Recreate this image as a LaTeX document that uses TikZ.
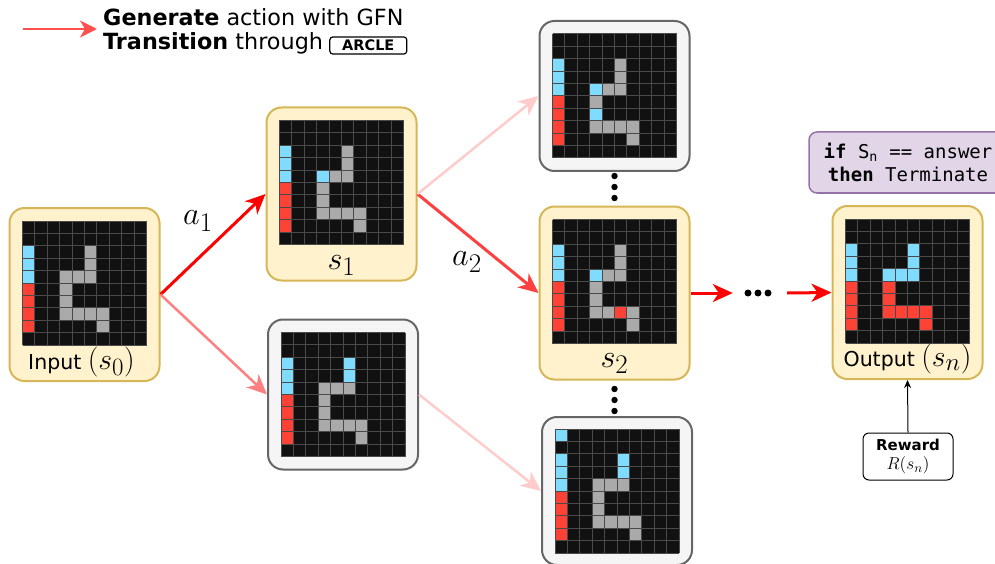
\documentclass[tikz,border=0pt]{standalone}
\usepackage{fontspec}
\setmainfont{DejaVu Sans}
\setmonofont{DejaVu Sans Mono}
\usetikzlibrary{arrows.meta}
\definecolor{ybg}{HTML}{FFF2CC}
\definecolor{ybd}{HTML}{D6B656}
\definecolor{gbg}{HTML}{F5F5F5}
\definecolor{gbd}{HTML}{666666}
\definecolor{pbg}{HTML}{E1D5E7}
\definecolor{pbd}{HTML}{9673A6}
\definecolor{cb}{HTML}{7FDBFF}
\definecolor{cr}{HTML}{FF4136}
\definecolor{cg}{HTML}{AAAAAA}
\definecolor{ck}{HTML}{111111}
\definecolor{cl}{HTML}{4A4A4A}
\definecolor{redA}{HTML}{FF0000}
\definecolor{redB}{HTML}{FF8080}
\definecolor{redC}{HTML}{FF4040}
\definecolor{redD}{HTML}{FFCCCC}
\definecolor{redL}{HTML}{FF5050}
\newcommand\MathBig{\fontsize{24.88}{28}\selectfont}
\newcommand\BigM[2]{\scalebox{#1}{\MathBig$#2$}}
\newcommand\ArcGrid[4]{%
 \begin{scope}[shift={(#1)}, shift={(#2,#3)}]
  \fill[ck] (0,0) rectangle (124,124);
  \foreach \c/\r/\k in {0/2/cb,0/3/cb,0/4/cb,0/5/cr,0/6/cr,0/7/cr,0/8/cr,5/2/cg,5/3/cg,3/4/cg,4/4/cg,5/4/cg,3/5/cg,3/6/cg,3/7/cg,4/7/cg,5/7/cg,6/7/cg,6/8/cg,#4}
    \fill[\k] (\c*12.4,\r*12.4) rectangle ++(12.4,12.4);
  \foreach \i in {0,...,10} {
    \draw[cl, line width=1pt] (\i*12.4,0) -- (\i*12.4,124);
    \draw[cl, line width=1pt] (0,\i*12.4) -- (124,\i*12.4);
  }
 \end{scope}}
\tikzset{
  ybox/.style={draw=ybd, fill=ybg, line width=2pt, rounded corners=15pt, minimum width=150pt, minimum height=173pt, inner sep=0pt},
  gbox/.style={draw=gbd, fill=gbg, line width=2pt, rounded corners=15pt, minimum width=150pt, minimum height=150pt, inner sep=0pt},
  lbl/.style={inner sep=0pt, font=\fontsize{20.5}{24}\selectfont},
  mlbl/.style={inner sep=0pt, font=\MathBig},
  leg/.style={inner sep=0pt, font=\fontsize{22.3}{24}\selectfont},
  arclebox/.style={draw=black, line width=1.2pt, rounded corners=3pt, minimum width=77pt, minimum height=17pt, inner sep=0pt, font=\bfseries\fontsize{14.5}{14.5}\selectfont},
  pbox/.style={draw=pbd, fill=pbg, line width=1.5pt, rounded corners=8pt, minimum width=198pt, minimum height=61pt, align=center, inner sep=0pt, font=\ttfamily\fontsize{19}{23}\selectfont},
  rbox/.style={draw=black, fill=white, line width=1pt, rounded corners=6pt, minimum width=90pt, minimum height=47pt, align=center, inner sep=0pt, font=\fontsize{15}{18}\selectfont},
  arr/.style={line width=3pt, -{Stealth[length=20pt,width=18pt,inset=6pt]}},
  arrlight/.style={line width=2.5pt, -{Stealth[length=20pt,width=18pt,inset=6pt]}},
  dotfill/.style={fill=black}
}
\begin{document}
\begin{tikzpicture}[x=1pt,y=-1pt]
\useasboundingbox (0,0) rectangle (995,564);
\clip (0,0) rectangle (995,564);

% boxes
\node[ybox] (in) at (84.5,294.5) {};
\node[ybox] (s1) at (341.5,194) {};
\node[gbox] (b1) at (343,394.5) {};
\node[gbox] (t2) at (614.5,96) {};
\node[ybox] (s2) at (614.5,293) {};
\node[gbox, minimum height=148pt] (b2) at (617,491) {};
\node[ybox] (out) at (907.5,292.5) {};

% grids
\ArcGrid{in.north}{-62}{14}{0/2/cb}
\ArcGrid{s1.north}{-62}{14}{3/4/cb}
\ArcGrid{b1.center}{-62}{-62}{5/2/cb,5/3/cb}
\ArcGrid{t2.center}{-62}{-62}{3/4/cb,3/6/cb}
\ArcGrid{s2.north}{-62}{14}{3/4/cb,5/7/cr}
\ArcGrid{b2.center}{-62}{-62}{5/2/cb,5/3/cb,0/0/cb}
\ArcGrid{out.north}{-62}{14}{5/2/cb,5/3/cb,3/4/cb,4/4/cb,5/4/cb,3/5/cr,3/6/cr,3/7/cr,4/7/cr,5/7/cr,6/7/cr,6/8/cr}

% box labels
\node[lbl] (inl) at ([xshift=-3pt,yshift=20pt]in.south) {Input \BigM{1.2}{(s_0)}};
\node[mlbl] (s1l) at ([yshift=16pt]s1.south) {\BigM{1.3}{s_1}};
\node[mlbl] (s2l) at ([yshift=17pt]s2.south) {\BigM{1.3}{s_2}};
\node[lbl] (outl) at ([yshift=21pt]out.south) {Output \BigM{1.2}{(s_n)}};

% action labels
\node[mlbl] (a1) at (198,221) {\BigM{1.3}{a_1}};
\node[mlbl] (a2) at (467,262) {\BigM{1.3}{a_2}};

% horizontal dots
\node[minimum width=54pt, minimum height=8pt, inner sep=0pt] (dots) at (760,293) {};
\fill[dotfill] ([xshift=-12pt]dots.center) circle (3.5pt);
\fill[dotfill] ([xshift=-2pt]dots.center) circle (3.5pt);
\fill[dotfill] ([xshift=8pt]dots.center) circle (3.5pt);

% vertical dots
\fill[dotfill] ([yshift=7.5pt]s2.north) circle (3.2pt);
\fill[dotfill] ([yshift=18.5pt]s2.north) circle (3.2pt);
\fill[dotfill] ([yshift=29.5pt]s2.north) circle (3.2pt);
\fill[dotfill] ([yshift=-8.5pt]s2.south) circle (3.2pt);
\fill[dotfill] ([yshift=-19.5pt]s2.south) circle (3.2pt);
\fill[dotfill] ([yshift=-30.5pt]s2.south) circle (3.2pt);

% connectors
\draw[arr, redA] (in.east) -- (s1.west);
\draw[arrlight, redB] (in.east) -- (b1.west);
\draw[arr, redC] (s1.east) -- (s2.west);
\draw[arrlight, redD] (s1.east) -- (t2.west);
\draw[arrlight, redD] (b1.east) -- (b2.west);
\draw[arr, redA] (s2.east) -- (dots.west);
\draw[arr, redA] (dots.east) -- (out.west);

% condition box
\node[pbox] (cond) at (908,162.5) {\textbf{if} S\textsubscript{n} == answer\\\textbf{then} Terminate};

% reward
\node[rbox] (rew) at (908,456.5) {\textbf{Reward}\\[1pt]\scalebox{1.2}{$R(s_n)$}};
\draw[line width=1pt, -{Stealth[length=8pt,width=7pt,inset=2.5pt]}] (rew.north) -- (out.south);

% legend
\coordinate (legA) at (23,29);
\coordinate (legB) at (97,29);
\draw[line width=2.5pt, redL, -{Stealth[length=17pt,width=17pt,inset=5pt]}] (legA) -- (legB);
\node[leg, anchor=base west] (leg1) at (103,26) {\textbf{Generate} action with GFN};
\node[leg, anchor=base west] (leg2) at (103,50) {\textbf{Transition} through};
\coordinate (arcy) at (0,45.5);
\node[arclebox, anchor=west, xshift=6pt] (arcle) at (leg2.east |- arcy) {ARCLE};
\end{tikzpicture}
\end{document}
